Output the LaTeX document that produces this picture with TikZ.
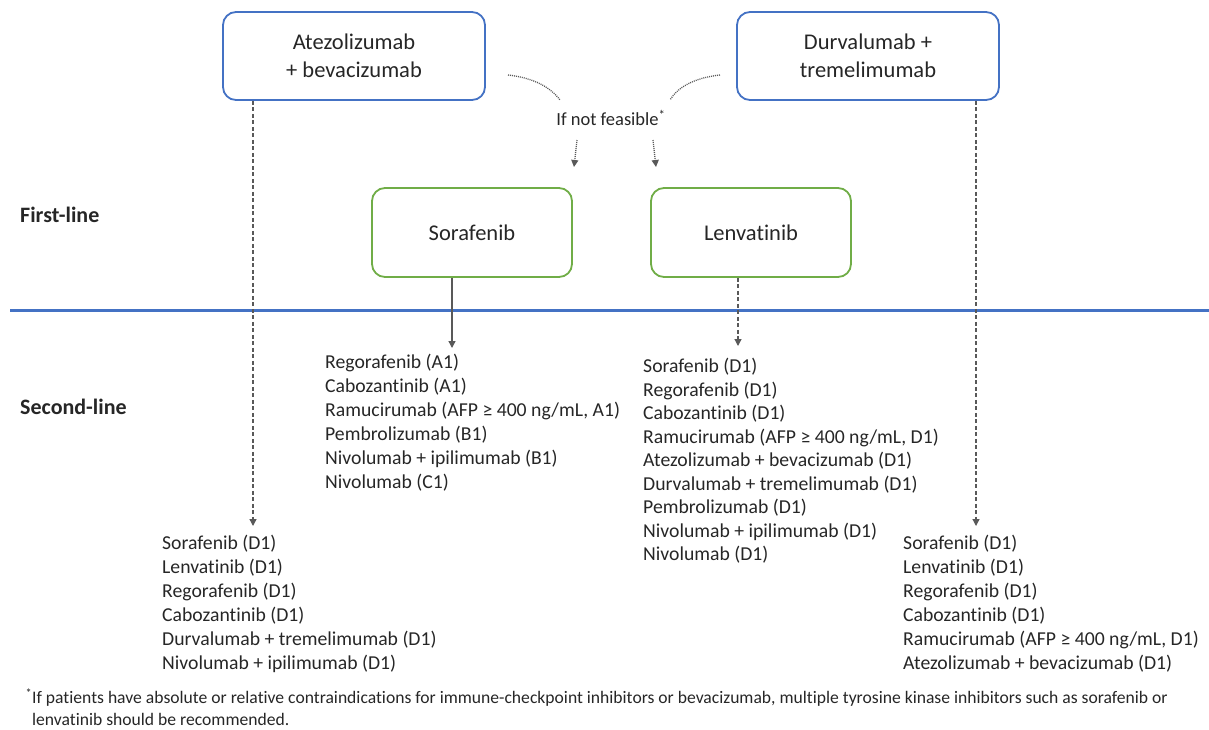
\documentclass[tikz,border=0pt]{standalone}
\usepackage{fontspec}
\setmainfont{Carlito}[Ligatures=NoCommon]
\usetikzlibrary{arrows.meta}
\definecolor{boxblue}{HTML}{4472C4}
\definecolor{boxgreen}{HTML}{70AD47}
\definecolor{arrgray}{HTML}{595959}
\definecolor{txt}{HTML}{262626}
\begin{document}
\begin{tikzpicture}[x=1pt,y=-1pt,
  every node/.style={text=txt},
  bluebox/.style={draw=boxblue, line width=1.8pt, rounded corners=13pt, minimum width=262pt, minimum height=88pt, align=center, font=\fontsize{22.5}{28}\selectfont},
  greenbox/.style={draw=boxgreen, line width=1.8pt, rounded corners=13pt, minimum width=200pt, minimum height=89pt, font=\fontsize{22.5}{28}\selectfont},
  listtext/.style={anchor=north west, inner sep=0pt, align=left, font=\fontsize{19.7}{24}\selectfont},
  rowlabel/.style={anchor=west, inner sep=0pt, font=\bfseries\fontsize{22}{26}\selectfont},
  tip/.style={-{Triangle[length=7pt,width=7pt]}},
  solidarrow/.style={draw=arrgray, line width=1.3pt, tip},
  dasharrow/.style={draw=arrgray, line width=1.3pt, dash pattern=on 4pt off 2.5pt, tip},
  dotline/.style={draw=arrgray, line width=1.3pt, dash pattern=on 1pt off 1pt},
  dotarrow/.style={dotline, tip},
  sepline/.style={draw=boxblue, line width=3pt}
]
\useasboundingbox (0,0) rectangle (1209,729);

% boxes
\node[bluebox] (atezo) at (354,56) {Atezolizumab\\+ bevacizumab};
\node[bluebox] (durva) at (868,56) {Durvalumab +\\tremelimumab};
\node[greenbox] (sora) at (472,232.5) {Sorafenib};
\node[greenbox] (lenva) at (751,232.5) {Lenvatinib};
\node[font=\fontsize{18.5}{22}\selectfont, inner sep=0pt] (ifnot) at (611,118) {If not feasible\textsuperscript{*}};

% row labels and separator
\node[rowlabel] (first) at (20,215) {First-line};
\node[rowlabel] (second) at (20,407) {Second-line};
\coordinate (sepL) at (10,310);
\coordinate (sepR) at (1209,310);
\draw[sepline] (sepL) -- (sepR);

% lists
\node[listtext] (soralist) at (325,354) {Regorafenib (A1)\\Cabozantinib (A1)\\Ramucirumab (AFP ≥ 400 ng/mL, A1)\\Pembrolizumab (B1)\\Nivolumab + ipilimumab (B1)\\Nivolumab (C1)};
\node[listtext, font=\fontsize{19.7}{23.5}\selectfont] (lenvalist) at (643,358) {Sorafenib (D1)\\Regorafenib (D1)\\Cabozantinib (D1)\\Ramucirumab (AFP ≥ 400 ng/mL, D1)\\Atezolizumab + bevacizumab (D1)\\Durvalumab + tremelimumab (D1)\\Pembrolizumab (D1)\\Nivolumab + ipilimumab (D1)\\Nivolumab (D1)};
\node[listtext] (atezolist) at (162,535) {Sorafenib (D1)\\Lenvatinib (D1)\\Regorafenib (D1)\\Cabozantinib (D1)\\Durvalumab + tremelimumab (D1)\\Nivolumab + ipilimumab (D1)};
\node[listtext] (durvalist) at (903,535) {Sorafenib (D1)\\Lenvatinib (D1)\\Regorafenib (D1)\\Cabozantinib (D1)\\Ramucirumab (AFP ≥ 400 ng/mL, D1)\\Atezolizumab + bevacizumab (D1)};

% arrow tips
\coordinate (soraTip) at (452,348);
\coordinate (lenvaTip) at (738,346);
\coordinate (atezoTip) at (253,526);
\coordinate (durvaTip) at (976,526);

\draw[solidarrow] (sora.south -| soraTip) -- (soraTip);
\draw[dasharrow] (lenva.south -| lenvaTip) -- (lenvaTip);
\draw[dasharrow] (atezo.south -| atezoTip) -- (atezoTip);
\draw[dasharrow] (durva.south -| durvaTip) -- (durvaTip);

% "if not feasible" curves and arrows
\coordinate (cL1) at (508,75);
\coordinate (cL2) at (560,100);
\coordinate (cR1) at (720,75);
\coordinate (cR2) at (670,100);
\draw[dotline] (cL1) .. controls (535,78) and (551,88) .. (cL2);
\draw[dotline] (cR1) .. controls (693,78) and (677,88) .. (cR2);
\coordinate (aL1) at (577,140);
\coordinate (aL2) at (574,167);
\coordinate (aR1) at (653,140);
\coordinate (aR2) at (656,167);
\draw[dotarrow] (aL1) -- (aL2);
\draw[dotarrow] (aR1) -- (aR2);

% footnote
\node[anchor=base west, inner sep=0pt, align=left, font=\fontsize{17.6}{21.5}\selectfont] (foot) at (32,725) {\llap{\textsuperscript{*}}If patients have absolute or relative contraindications for immune-checkpoint inhibitors or bevacizumab, multiple tyrosine kinase inhibitors such as sorafenib or\\lenvatinib should be recommended.};
\end{tikzpicture}
\end{document}
